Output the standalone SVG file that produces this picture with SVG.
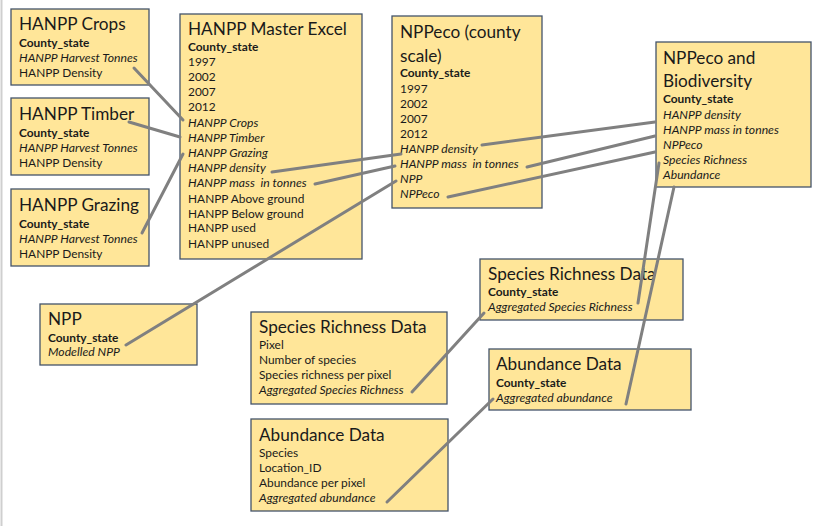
<svg xmlns="http://www.w3.org/2000/svg" width="826" height="526" viewBox="0 0 826 526">
<style>
.box{fill:#FFE699;stroke:#44546A;stroke-width:1.3}
text{font-family:Lato,"Open Sans","Liberation Sans",sans-serif;fill:#1a1a1a}
.t{font-size:17.2px}
.s{font-size:11.9px}
.b{font-weight:bold}
.i{font-style:italic;font-size:12.2px}
.c line{stroke:#808080;stroke-width:3;stroke-linecap:round}
</style>
<rect x="0" y="0" width="826" height="526" fill="#ffffff"/>
<line x1="1.5" y1="0" x2="1.5" y2="526" stroke="#cfcfcf" stroke-width="2"/>

<g id="hanpp-crops">
<rect class="box" x="11" y="9" width="138" height="76"/>
<text class="t" x="19" y="30">HANPP Crops</text>
<text class="s b" x="19" y="47">County_state</text>
<text class="s i" x="19" y="62">HANPP Harvest Tonnes</text>
<text class="s" x="19" y="77">HANPP Density</text>
</g>

<g id="hanpp-timber">
<rect class="box" x="11" y="98" width="138" height="77"/>
<text class="t" x="19" y="120">HANPP Timber</text>
<text class="s b" x="19" y="137">County_state</text>
<text class="s i" x="19" y="152">HANPP Harvest Tonnes</text>
<text class="s" x="19" y="167">HANPP Density</text>
</g>

<g id="hanpp-grazing">
<rect class="box" x="11" y="189" width="138" height="77"/>
<text class="t" x="19" y="211">HANPP Grazing</text>
<text class="s b" x="19" y="228">County_state</text>
<text class="s i" x="19" y="243">HANPP Harvest Tonnes</text>
<text class="s" x="19" y="258">HANPP Density</text>
</g>

<g id="hanpp-master">
<rect class="box" x="180" y="14" width="182" height="245"/>
<text class="t" x="188" y="35">HANPP Master Excel</text>
<text class="s b" x="188" y="51">County_state</text>
<text class="s" x="188" y="66">1997</text>
<text class="s" x="188" y="81">2002</text>
<text class="s" x="188" y="96">2007</text>
<text class="s" x="188" y="111">2012</text>
<text class="s i" x="188" y="127">HANPP Crops</text>
<text class="s i" x="188" y="142">HANPP Timber</text>
<text class="s i" x="188" y="157">HANPP Grazing</text>
<text class="s i" x="188" y="172">HANPP density</text>
<text class="s i" x="188" y="187" xml:space="preserve">HANPP mass  in tonnes</text>
<text class="s" x="188" y="203">HANPP Above ground</text>
<text class="s" x="188" y="218">HANPP Below ground</text>
<text class="s" x="188" y="232">HANPP used</text>
<text class="s" x="188" y="248">HANPP unused</text>
</g>

<g id="nppeco-county">
<rect class="box" x="392" y="16" width="150" height="192"/>
<text class="t" x="400" y="38">NPPeco (county</text>
<text class="t" x="400" y="62">scale)</text>
<text class="s b" x="400" y="77">County_state</text>
<text class="s" x="400" y="93">1997</text>
<text class="s" x="400" y="108">2002</text>
<text class="s" x="400" y="123">2007</text>
<text class="s" x="400" y="138">2012</text>
<text class="s i" x="400" y="153">HANPP density</text>
<text class="s i" x="400" y="168" xml:space="preserve">HANPP mass  in tonnes</text>
<text class="s i" x="400" y="183">NPP</text>
<text class="s i" x="400" y="198">NPPeco</text>
</g>

<g id="nppeco-biodiversity">
<rect class="box" x="656" y="42" width="155" height="145"/>
<text class="t" x="663" y="64">NPPeco and</text>
<text class="t" x="663" y="87">Biodiversity</text>
<text class="s b" x="663" y="103">County_state</text>
<text class="s i" x="663" y="119">HANPP density</text>
<text class="s i" x="663" y="134">HANPP mass in tonnes</text>
<text class="s i" x="663" y="149">NPPeco</text>
<text class="s i" x="663" y="164">Species Richness</text>
<text class="s i" x="663" y="179">Abundance</text>
</g>

<g id="npp">
<rect class="box" x="40" y="304" width="157" height="61"/>
<text class="t" x="48" y="325">NPP</text>
<text class="s b" x="48" y="342">County_state</text>
<text class="s i" x="48" y="356">Modelled NPP</text>
</g>

<g id="species-richness-raw">
<rect class="box" x="251" y="312" width="196" height="92"/>
<text class="t" x="259" y="333">Species Richness Data</text>
<text class="s" x="259" y="349">Pixel</text>
<text class="s" x="259" y="364">Number of species</text>
<text class="s" x="259" y="379">Species richness per pixel</text>
<text class="s i" x="259" y="394">Aggregated Species Richness</text>
</g>

<g id="abundance-raw">
<rect class="box" x="251" y="419" width="197" height="92"/>
<text class="t" x="259" y="441">Abundance Data</text>
<text class="s" x="259" y="457">Species</text>
<text class="s" x="259" y="472">Location_ID</text>
<text class="s" x="259" y="487">Abundance per pixel</text>
<text class="s i" x="259" y="502">Aggregated abundance</text>
</g>

<g id="species-richness-county">
<rect class="box" x="480" y="259" width="203" height="61"/>
<text class="t" x="488" y="280">Species Richness Data</text>
<text class="s b" x="488" y="296">County_state</text>
<text class="s i" x="488" y="311">Aggregated Species Richness</text>
</g>

<g id="abundance-county">
<rect class="box" x="489" y="349" width="202" height="61"/>
<text class="t" x="496" y="370">Abundance Data</text>
<text class="s b" x="496" y="387">County_state</text>
<text class="s i" x="496" y="402">Aggregated abundance</text>
</g>

<g id="connectors" class="c">
<line x1="134" y1="68" x2="183" y2="120"/>
<line x1="129" y1="122" x2="180" y2="137"/>
<line x1="142" y1="233" x2="183" y2="154"/>
<line x1="272" y1="172" x2="401" y2="154"/>
<line x1="315" y1="184" x2="395" y2="166"/>
<line x1="126" y1="345" x2="396" y2="181"/>
<line x1="482" y1="145" x2="655" y2="122"/>
<line x1="527" y1="167" x2="655" y2="136"/>
<line x1="448" y1="197" x2="655" y2="152"/>
<line x1="659" y1="163" x2="638" y2="303"/>
<line x1="674" y1="187" x2="626" y2="404"/>
<line x1="412" y1="392" x2="484" y2="313"/>
<line x1="387" y1="502" x2="493" y2="399"/>
</g>
</svg>
